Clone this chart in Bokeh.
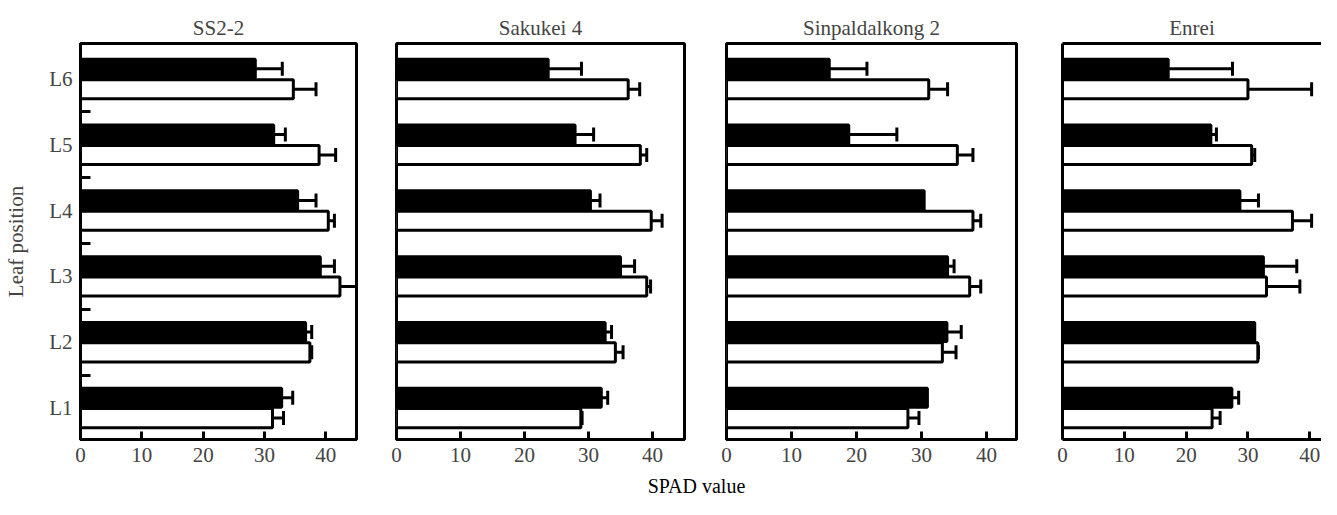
from bokeh.plotting import figure
from bokeh.models import (ColumnDataSource, FixedTicker, Whisker, TeeHead, Range1d,
                          LinearAxis, Label)
from bokeh.layouts import row, column
from bokeh.embed import file_html
from bokeh.resources import INLINE

# ---------------- data ----------------
leaves = ["L1", "L2", "L3", "L4", "L5", "L6"]
cultivars = ["SS2-2", "Sakukei 4", "Sinpaldalkong 2", "Enrei"]

ss22_black = [32.8, 36.7, 39.1, 35.4, 31.5, 28.5]
ss22_black_se = [1.8, 1.0, 2.3, 3.0, 1.9, 4.4]
ss22_white = [31.3, 37.4, 42.3, 40.4, 38.9, 34.7]
ss22_white_se = [1.8, 0.3, 2.8, 1.0, 2.7, 3.7]

saku_black = [32.0, 32.6, 35.0, 30.3, 27.9, 23.7]
saku_black_se = [1.0, 1.0, 2.2, 1.5, 2.9, 5.2]
saku_white = [28.8, 34.2, 39.1, 39.8, 38.1, 36.2]
saku_white_se = [0.2, 1.2, 0.6, 1.7, 1.0, 1.8]

sinp_black = [30.9, 33.9, 34.0, 30.4, 18.8, 15.8]
sinp_black_se = [0.0, 2.2, 1.0, 0.0, 7.4, 5.8]
sinp_white = [27.9, 33.2, 37.4, 37.9, 35.5, 31.1]
sinp_white_se = [1.7, 2.1, 1.7, 1.2, 2.4, 2.9]

enrei_black = [27.4, 31.1, 32.5, 28.7, 24.0, 17.1]
enrei_black_se = [1.1, 0.0, 5.4, 3.0, 0.9, 10.4]
enrei_white = [24.2, 31.6, 33.0, 37.2, 30.6, 30.0]
enrei_white_se = [1.3, 0.1, 5.4, 3.1, 0.5, 10.3]

x_ticks = [0, 10, 20, 30, 40]

panels = [
    (ss22_black, ss22_black_se, ss22_white, ss22_white_se),
    (saku_black, saku_black_se, saku_white, saku_white_se),
    (sinp_black, sinp_black_se, sinp_white, sinp_white_se),
    (enrei_black, enrei_black_se, enrei_white, enrei_white_se),
]

FONT = "Liberation Serif"
FS = "21px"
LW = 3
H = 472

# (min_border_left, frame width, min_border_right, x end)
geom = [
    (80, 276, 20, 45.0),
    (20, 288, 21, 45.0),
    (21, 290, 23, 44.6),
    (23, 259, 0, 41.9),
]

figs = []
for k, (name, data, g) in enumerate(zip(cultivars, panels, geom)):
    bl, blse, wh, whse = data
    bleft, fw, bright, xend = g
    width = bleft + fw + bright
    p = figure(width=width, height=H, output_backend="svg", toolbar_location=None,
               x_range=Range1d(0, xend), y_range=Range1d(0.52, 6.54),
               min_border_left=bleft, min_border_right=bright,
               min_border_top=43, min_border_bottom=33,
               title=name)
    p.title.text_font = FONT
    p.title.text_font_size = FS
    p.title.text_font_style = "normal"
    p.title.align = "center"
    p.title.standoff = 8
    p.grid.visible = False
    p.background_fill_color = "white"
    p.border_fill_color = "white"

    ypos = [i + 1 for i in range(len(leaves))]
    yb = [y + 0.155 for y in ypos]
    yw = [y - 0.155 for y in ypos]
    src_b = ColumnDataSource(dict(y=yb, v=bl, up=[a + b for a, b in zip(bl, blse)], se=blse))
    src_w = ColumnDataSource(dict(y=yw, v=wh, up=[a + b for a, b in zip(wh, whse)], se=whse))

    p.hbar(y="y", right="v", left=0, height=0.29, source=src_b,
           fill_color="black", line_color="black", line_width=LW)
    p.hbar(y="y", right="v", left=0, height=0.29, source=src_w,
           fill_color="white", line_color="black", line_width=LW)

    for s in (src_b, src_w):
        d = s.data
        keep = [i for i, e in enumerate(d["se"]) if e > 0.05]
        es = ColumnDataSource(dict(y=[d["y"][i] for i in keep],
                                   v=[d["v"][i] for i in keep],
                                   up=[d["up"][i] for i in keep]))
        w = Whisker(source=es, base="y", lower="v", upper="up", dimension="width",
                    line_color="black", line_width=LW,
                    upper_head=TeeHead(size=14, line_color="black", line_width=LW),
                    lower_head=None)
        p.add_layout(w)

    # x axis
    xa = p.xaxis[0]
    xa.ticker = FixedTicker(ticks=x_ticks)
    xa.major_tick_in = 8
    xa.major_tick_out = 0
    xa.major_tick_line_width = LW
    xa.minor_tick_line_color = None
    xa.axis_line_width = LW
    xa.major_label_text_font = FONT
    xa.major_label_text_font_size = FS
    xa.major_label_standoff = 8

    ya = p.yaxis[0]
    if k == 0:
        ya.ticker = FixedTicker(ticks=ypos, minor_ticks=[y + 0.5 for y in ypos[:-1]])
        ya.major_label_overrides = {y: lab for y, lab in zip(ypos, leaves)}
        ya.major_tick_line_color = None
        ya.major_tick_in = 0
        ya.major_tick_out = 0
        ya.minor_tick_in = 10
        ya.minor_tick_out = 0
        ya.minor_tick_line_width = LW
        ya.axis_line_width = LW
        ya.major_label_text_font = FONT
        ya.major_label_text_font_size = FS
        ya.major_label_standoff = 8
        ya.axis_label = "Leaf position"
        ya.axis_label_text_font = FONT
        ya.axis_label_text_font_size = FS
        ya.axis_label_text_font_style = "normal"
        ya.axis_label_standoff = 18
    else:
        ya.visible = False

    if k == 3:
        # right edge of this panel lies beyond the picture: no outline, draw left/top lines
        p.outline_line_color = None
        la = LinearAxis(ticker=FixedTicker(ticks=[]), axis_line_width=LW,
                        major_tick_out=0, major_tick_in=0, minor_tick_out=0,
                        minor_tick_in=0, major_label_standoff=0,
                        major_label_text_font_size="0px")
        p.add_layout(la, "left")
        ta = LinearAxis(ticker=FixedTicker(ticks=[]), axis_line_width=LW,
                        major_tick_out=0, major_tick_in=0, minor_tick_out=0,
                        minor_tick_in=0, major_label_standoff=0,
                        major_label_text_font_size="0px")
        p.add_layout(ta, "above")
    else:
        p.outline_line_color = "black"
        p.outline_line_width = LW
        p.outline_line_alpha = 1.0

    figs.append(p)

# bottom common label
LH = 27
lab = figure(width=1321, height=LH, output_backend="svg", toolbar_location=None,
             x_range=Range1d(0, 1321), y_range=Range1d(0, LH),
             x_axis_type=None, y_axis_type=None, min_border=0)
lab.grid.visible = False
lab.outline_line_color = None
lab.add_layout(Label(x=696, y=LH / 2, text="SPAD value", text_align="center",
                     text_baseline="middle", text_font=FONT, text_font_size="20px",
                     text_color="black"))

layout = column(row(*figs, spacing=0), lab, spacing=0)

open("out.html", "w").write(file_html(layout, INLINE))
